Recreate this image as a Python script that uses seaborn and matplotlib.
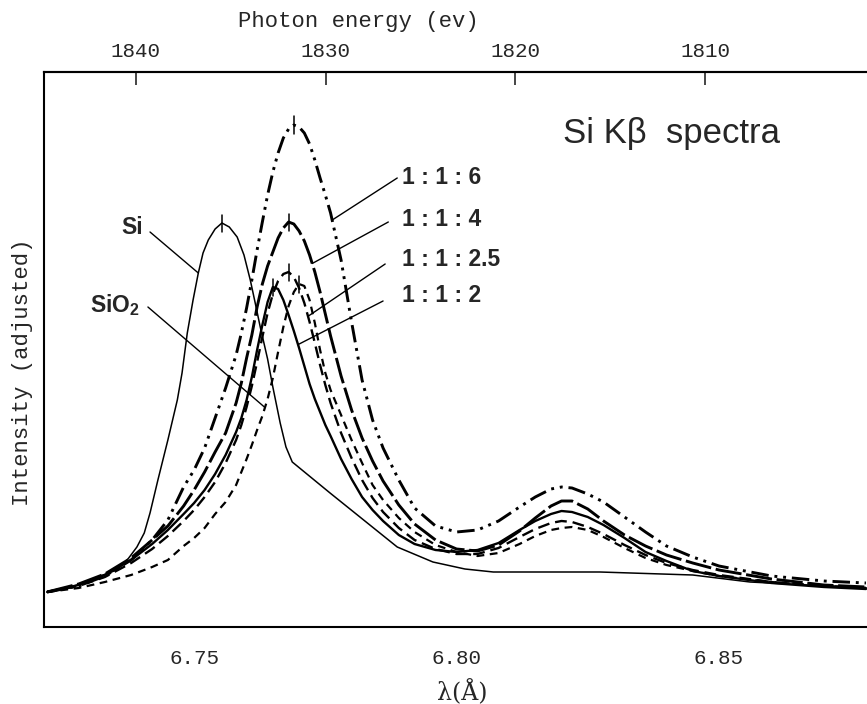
import numpy as np
import pandas as pd
import matplotlib
matplotlib.use("Agg")
import matplotlib.pyplot as plt
import seaborn as sns

# Si K-beta spectra, intensity in arbitrary (adjusted) units, wavelength in Angstrom
wl = [6.722, 6.728, 6.733, 6.738, 6.742, 6.745, 6.748, 6.750, 6.752, 6.754,
      6.756, 6.758, 6.759, 6.760, 6.761, 6.762, 6.763, 6.764, 6.765, 6.766,
      6.767, 6.768, 6.769, 6.770, 6.771, 6.772, 6.773, 6.774, 6.775, 6.776,
      6.778, 6.780, 6.782, 6.784, 6.786, 6.789, 6.792, 6.796, 6.800, 6.804,
      6.808, 6.812, 6.815, 6.818, 6.820, 6.822, 6.825, 6.828, 6.832, 6.836,
      6.840, 6.845, 6.850, 6.860, 6.870, 6.878]

r116 = [7.0, 8.2, 10.2, 13.4, 17.4, 21.4, 28.0, 31.4, 35.8, 41.8,
        47.8, 54.4, 58.8, 63.8, 69.4, 75.4, 81.0, 86.4, 91.0, 94.8,
        97.8, 99.6, 100.4, 100.0, 98.8, 96.6, 93.4, 89.8, 86.4, 82.8,
        73.4, 61.0, 49.4, 41.4, 35.8, 29.4, 23.8, 20.2, 19.0, 19.4,
        21.2, 24.0, 26.0, 27.6, 28.0, 27.8, 26.6, 25.0, 22.0, 19.0,
        16.2, 14.0, 12.2, 10.2, 9.2, 8.8]
r114 = [7.0, 8.6, 10.6, 13.8, 17.4, 20.2, 24.2, 27.4, 31.0, 35.0,
        38.8, 44.8, 48.8, 53.8, 58.4, 64.0, 68.6, 72.2, 75.0, 77.8,
        79.8, 81.0, 80.6, 79.2, 77.2, 74.4, 71.0, 67.0, 62.6, 58.2,
        50.2, 43.4, 37.8, 33.2, 29.2, 24.4, 20.6, 17.4, 15.6, 15.2,
        16.4, 19.2, 21.8, 24.2, 25.2, 25.2, 23.6, 21.2, 18.4, 16.2,
        14.4, 12.8, 11.4, 9.6, 8.4, 8.0]
r1125 = [7.0, 8.2, 10.0, 12.8, 15.6, 18.2, 21.2, 23.4, 26.0, 29.0,
         32.8, 37.4, 40.4, 44.0, 48.2, 53.0, 58.0, 62.8, 66.6, 69.2,
         70.6, 71.0, 70.0, 67.8, 64.8, 61.0, 56.8, 52.4, 48.4, 44.8,
         38.8, 33.8, 29.4, 25.8, 23.0, 19.8, 17.4, 15.6, 14.6, 14.6,
         15.8, 18.0, 19.6, 20.8, 21.2, 21.0, 20.0, 18.6, 16.4, 14.4,
         12.8, 11.4, 10.4, 9.0, 8.2, 7.8]
r112 = [7.0, 8.4, 10.4, 13.4, 16.6, 19.4, 22.6, 24.8, 27.4, 30.6,
        34.4, 39.0, 41.8, 45.4, 50.0, 55.4, 60.4, 65.0, 68.0, 67.6,
        65.4, 62.4, 59.2, 55.8, 52.2, 48.6, 45.6, 43.0, 40.4, 38.2,
        33.6, 29.6, 26.0, 23.4, 21.2, 18.4, 16.6, 15.4, 15.0, 15.4,
        16.8, 19.4, 21.2, 22.6, 23.2, 23.0, 22.0, 20.4, 17.8, 15.0,
        13.2, 11.2, 10.2, 8.8, 8.0, 7.6]
sio2 = [7.0, 7.8, 9.0, 10.4, 12.0, 13.4, 16.2, 17.8, 19.8, 22.6,
        25.0, 28.4, 31.0, 33.6, 36.4, 39.4, 42.2, 45.6, 49.8, 55.0,
        60.0, 64.2, 67.0, 68.6, 68.2, 65.4, 60.8, 55.4, 50.8, 47.4,
        42.4, 37.4, 32.8, 28.4, 25.4, 21.8, 19.0, 16.4, 15.0, 14.2,
        14.8, 16.6, 18.2, 19.4, 19.8, 20.0, 19.4, 18.0, 15.8, 13.8,
        12.4, 11.2, 10.2, 9.0, 8.2, 7.8]

si_wl = [6.7220, 6.7254, 6.7289, 6.7321, 6.7353, 6.7374, 6.7391, 6.7405, 6.7416, 6.7431,
         6.7450, 6.7468, 6.7477, 6.7487, 6.7498, 6.7508, 6.7517, 6.7527, 6.7540, 6.7553,
         6.7567, 6.7582, 6.7595, 6.7607, 6.7616, 6.7626, 6.7640, 6.7650, 6.7664, 6.7675,
         6.7687, 6.7759, 6.7887, 6.7955, 6.8016, 6.8070, 6.8273, 6.8450, 6.8559, 6.8782]
si_int = [7.0, 7.6, 8.8, 10.2, 11.4, 13.6, 16.0, 18.8, 22.8, 29.4,
          37.4, 45.4, 50.8, 58.8, 65.4, 70.8, 74.8, 77.4, 79.6, 80.8,
          80.0, 78.0, 74.4, 69.4, 65.0, 60.0, 53.6, 48.0, 40.8, 36.0,
          33.0, 26.8, 16.0, 13.0, 11.6, 11.0, 11.0, 10.4, 9.0, 7.8]

wl_ticks = [6.75, 6.80, 6.85]
wl_labels = ["6.75", "6.80", "6.85"]
ev_ticks = [1840, 1830, 1820, 1810]

sns.set_style("white")
plt.rcParams["mathtext.default"] = "regular"

fig = plt.figure(figsize=(8.67, 7.04), dpi=100)
ax = fig.add_axes([44 / 867, 77 / 704, 823 / 867, 555 / 704])

# name, x, y, linestyle, linewidth
curves = [
    ("Si", si_wl, si_int, "-", 1.1),
    ("SiO2", wl, sio2, (0, (3.5, 2.5)), 1.6),
    ("1:1:2", wl, r112, "-", 1.7),
    ("1:1:2.5", wl, r1125, (0, (5, 2.5)), 1.7),
    ("1:1:4", wl, r114, (0, (9, 1.6)), 2.1),
    ("1:1:6", wl, r116, (0, (6, 2, 1, 2, 1, 2)), 2.1),
]
for name, x, y, ls, lw in curves:
    df = pd.DataFrame({"wl": x, "I": y})
    sns.lineplot(data=df, x="wl", y="I", ax=ax, color="black", linestyle=ls,
                 linewidth=lw, sort=False, estimator=None, legend=False,
                 solid_joinstyle="round", dash_joinstyle="round")
    i = int(np.argmax(y))
    ax.plot([x[i], x[i]], [y[i] - 1.7, y[i] + 1.7], color="black", lw=1.1)

ax.set_xlim(6.7214, 6.8782)
ax.set_ylim(0, 111)
ax.set_xlabel("")
ax.set_ylabel("")
ax.set_yticks([])
ax.set_xticks(wl_ticks)
ax.set_xticklabels(wl_labels)
ax.tick_params(axis="x", direction="in", length=10, width=1.2, pad=16,
               labelsize=15, labelfontfamily="Liberation Mono")
for s in ["left", "top", "bottom"]:
    ax.spines[s].set_linewidth(1.5)
    ax.spines[s].set_color("black")
ax.spines["right"].set_visible(False)

# photon energy scale on top (linear as drawn in the original)
sec = ax.secondary_xaxis("top", functions=(lambda w: 1840 - (w - 6.7389) / 0.003616,
                                           lambda e: 6.7389 + (1840 - e) * 0.003616))
sec.set_xticks(ev_ticks)
sec.tick_params(axis="x", direction="in", length=9, width=1.2, pad=8,
                labelsize=15, labelfontfamily="Liberation Mono")
sec.spines["top"].set_linewidth(1.5)

fig.text(358 / 867, 1 - 22 / 704, "Photon energy (ev)", ha="center", va="center",
         fontsize=16, family="Liberation Mono")
fig.text(23 / 867, 1 - 372 / 704, "Intensity (adjusted)", ha="center", va="center",
         rotation=90, fontsize=16, family="Liberation Mono")
fig.text(462 / 867, 1 - 692 / 704, "λ(Å)", ha="center", va="center",
         fontsize=17, family="DejaVu Serif")

ax.text(6.8203, 98.8, "Si Kβ  spectra", ha="left", va="center", fontsize=25,
        family=["Liberation Sans", "DejaVu Sans"])

lab = dict(fontsize=16.5, fontweight="bold", family="Liberation Sans", va="center")
ax.text(6.7382, 79.8, "Si", ha="center", **lab)
ax.text(6.7350, 64.4, "SiO$_2$", ha="center", **lab)
ax.text(6.7896, 90.0, "1 : 1 : 6", ha="left", **lab)
ax.text(6.7896, 81.6, "1 : 1 : 4", ha="left", **lab)
ax.text(6.7896, 73.6, "1 : 1 : 2.5", ha="left", **lab)
ax.text(6.7896, 66.2, "1 : 1 : 2", ha="left", **lab)

# leader lines from labels to the curves
leaders = [
    ((6.7416, 79.0), si_wl, si_int, 6.7508),
    ((6.7412, 64.0), wl, sio2, 6.7635),
    ((6.7887, 89.8), wl, r116, 6.7763),
    ((6.7870, 81.0), wl, r114, 6.7725),
    ((6.7864, 72.6), wl, r1125, 6.7717),
    ((6.7860, 65.2), wl, r112, 6.7698),
]
for start, x, y, at in leaders:
    ax.annotate("", xy=(at, np.interp(at, x, y)), xytext=start,
                arrowprops=dict(arrowstyle="-", color="black", lw=1.0,
                                shrinkA=0, shrinkB=0))

fig.savefig("out.png", dpi=100)
